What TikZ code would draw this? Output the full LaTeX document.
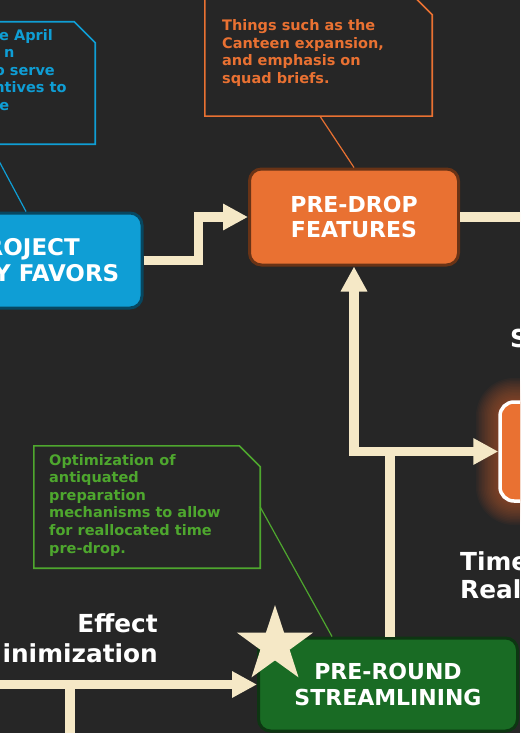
\documentclass[tikz,border=0pt]{standalone}
\usepackage{fontspec}
\newfontfamily\nodefont{DejaVu Sans}
\usetikzlibrary{arrows.meta,shapes.geometric}
\definecolor{bg}{HTML}{262626}
\definecolor{cream}{HTML}{F5E8C6}
\definecolor{oorange}{HTML}{E97132}
\definecolor{oblue}{HTML}{0F9ED5}
\definecolor{ogreen}{HTML}{196B24}
\definecolor{lgreen}{HTML}{4EA72E}
\begin{document}
\begin{tikzpicture}[x=1pt,y=-1pt,
  flow/.style={draw=cream, line width=9.5pt, -{Triangle[length=25pt,width=25pt]}},
  plain/.style={draw=cream, line width=9.5pt},
  box/.style={rounded corners=12pt, line width=3pt, inner sep=0pt},
  boxtext/.style={text=white, font=\nodefont\bfseries\fontsize{22}{25.5}\selectfont, align=center},
  bigtext/.style={text=white, font=\nodefont\bfseries\fontsize{24.8}{28}\selectfont, inner sep=0pt},
  calltext/.style={font=\nodefont\bfseries\fontsize{14.5}{17.6}\selectfont, inner sep=0pt, anchor=base west},
  callbox/.style={inner sep=0pt, minimum height=122pt},
  callline/.style={line width=1.6pt},
  tether/.style={line width=1.2pt}
]
\useasboundingbox (0,0) rectangle (520,733);
\clip (0,0) rectangle (520,733);
\fill[bg] (0,0) rectangle (520,733);

% glow around right orange node
\foreach \d in {1.5,3,...,24}
  \fill[oorange!85!black, opacity=0.05, rounded corners=14pt+\d pt] (500-\d,402-\d) rectangle (640+\d,501+\d);

% nodes
\node[box, fill=oblue, draw=oblue!45!black, minimum width=250pt, minimum height=95pt] (bluenode) at (17,260.5) {};
\node[box, fill=oorange, draw=oorange!45!black, minimum width=209pt, minimum height=96pt, boxtext] (predrop) at (354,217) {PRE-DROP\\FEATURES};
\node[box, fill=ogreen, draw=ogreen!50!black, minimum width=259pt, minimum height=93pt, boxtext] (preround) at (388,684.5) {PRE-ROUND\\STREAMLINING};
\node[box, rounded corners=14pt, fill=oorange, draw=white, line width=3.5pt, minimum width=120pt, minimum height=99pt] (glownode) at (560,451.5) {};

% blue node label fragments
\node[boxtext, font=\nodefont\bfseries\fontsize{23}{26}\selectfont, inner sep=0pt, anchor=base east] (bl1) at (80,255.7) {ROJECT};
\node[boxtext, font=\nodefont\bfseries\fontsize{23}{26}\selectfont, inner sep=0pt, anchor=base east] (bl2) at (119.5,281.7) {Y FAVORS};

% callout boxes
\node[callbox, minimum width=115pt] (bcall) at (37.5,83) {};
\node[callbox, minimum width=227pt] (ocall) at (318.5,55) {};
\node[callbox, minimum width=226pt] (gcall) at (147,507) {};
\foreach \c/\col in {bcall/oblue, ocall/oorange, gcall/lgreen}
  \draw[callline, \col] (\c.south west) -- (\c.north west) -- ([xshift=-21pt]\c.north east) -- ([yshift=-21pt]\c.north east) -- (\c.south east) -- cycle;

% callout texts
\node[calltext, text=oblue, anchor=base east] (bt1) at (53,40.5) {he April};
\node[calltext, text=oblue, anchor=base east] (bt2) at (14.7,58) {n};
\node[calltext, text=oblue, anchor=base east] (bt3) at (55,75.5) {o serve};
\node[calltext, text=oblue, anchor=base east] (bt4) at (66.7,93) {ntives to};
\node[calltext, text=oblue, anchor=base east] (bt5) at (9.3,110.5) {e};

\node[calltext, text=oorange] (ot1) at (222,31) {Things such as the};
\node[calltext, text=oorange] (ot2) at (222,48.5) {Canteen expansion,};
\node[calltext, text=oorange] (ot3) at (222,66) {and emphasis on};
\node[calltext, text=oorange] (ot4) at (222,83.5) {squad briefs.};

\node[calltext, text=lgreen] (gt1) at (49,465) {Optimization of};
\node[calltext, text=lgreen] (gt2) at (49,482.6) {antiquated};
\node[calltext, text=lgreen] (gt3) at (49,500.2) {preparation};
\node[calltext, text=lgreen] (gt4) at (49,517.8) {mechanisms to allow};
\node[calltext, text=lgreen] (gt5) at (49,535.4) {for reallocated time};
\node[calltext, text=lgreen] (gt6) at (49,553) {pre-drop.};

% callout tethers
\draw[tether, oblue] ([xshift=-47.5pt]bcall.south) -- ([xshift=9pt]bluenode.north);
\draw[tether, oorange] ([xshift=1.5pt]ocall.south) -- (predrop.north);
\draw[tether, lgreen] (gcall.east) -- ([xshift=-56pt]preround.north);

% big white labels
\node[bigtext, anchor=base west] (s1) at (510,347.5) {S};
\node[bigtext, anchor=base west] (t1) at (460,570.5) {Time};
\node[bigtext, anchor=base west] (t2) at (460,598.5) {Real};
\node[bigtext, anchor=base east] (e1) at (158,632.7) {Effect};
\node[bigtext, anchor=base east] (e2) at (158,662) {inimization};

% connectors
\coordinate (offR) at (530,217);
\coordinate (offL) at (-10,684.5);
\coordinate (offB) at (70,745);
\coordinate (j) at (390,451.5);
\draw[flow] (bluenode.east) -- ++(55,0) |- (predrop.west);
\draw[plain] (predrop.east) -- (offR);
\draw[plain] (preround.north -| j) -- (j);
\draw[flow] (j) -| (predrop.south);
\draw[flow] (j) -- (glownode.west);
\draw[flow] (offL) -- (preround.west);
\draw[plain] (offB) -- (offB |- offL);

% star
\node[star, star points=5, star point ratio=2.6, fill=cream, minimum size=80pt, inner sep=0pt] (star) at (275,645) {};
\end{tikzpicture}
\end{document}
